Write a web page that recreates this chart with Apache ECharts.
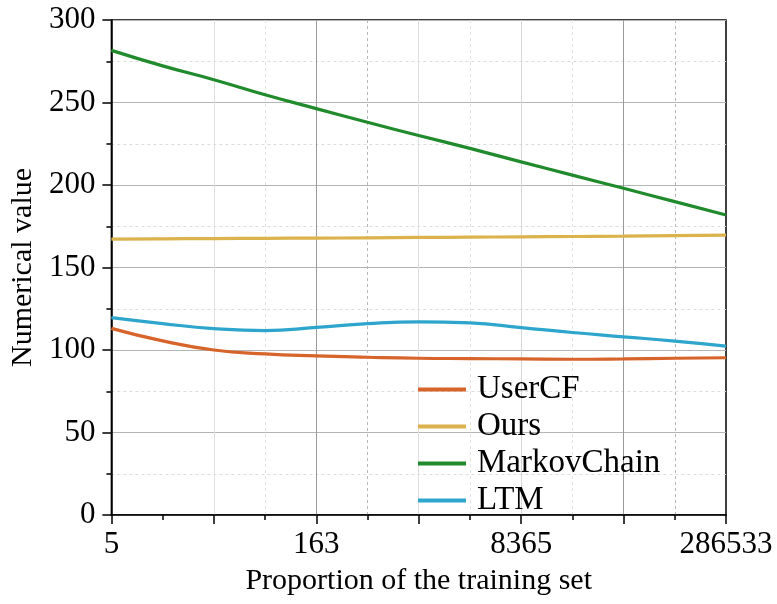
<!DOCTYPE html>
<html>
<head>
<meta charset="utf-8">
<script src="https://cdn.jsdelivr.net/npm/echarts@6/dist/echarts.min.js"></script>
<style>html,body{margin:0;padding:0;background:#fff}#c{width:777px;height:604px}</style>
</head>
<body>
<div id="c"></div>
<script>
const xTickLabels = ['5', '163', '8365', '286533'];
const xPos = [0, 0.5, 1, 1.5, 2, 2.5, 3, 3.5, 4, 4.5, 5, 5.5, 6];
const seriesNames = ['UserCF', 'Ours', 'MarkovChain', 'LTM'];
const userCF = [113.1, 105.5, 100.0, 97.6, 96.4, 95.6, 95.0, 94.8, 94.6, 94.4, 94.6, 95.0, 95.3];
const ours = [167.2, 167.4, 167.5, 167.7, 167.8, 168.0, 168.2, 168.4, 168.6, 168.8, 169.0, 169.3, 169.6];
const markov = [281.6, 272.2, 263.8, 254.7, 246.3, 238.0, 230.0, 222.2, 214.0, 206.0, 198.0, 189.9, 181.8];
const ltm = [119.6, 116.0, 113.0, 111.8, 113.7, 116.0, 117.1, 116.4, 113.6, 110.6, 108.0, 105.4, 102.4];
const colors = ['#D7642A', '#DBB24C', '#218A2C', '#2EA5CC'];

const font = 'Liberation Serif';
const pair = arr => arr.map((v, i) => [xPos[i], v]);
const allData = [userCF, ours, markov, ltm];

const chart = echarts.init(document.getElementById('c'), null, {renderer: 'canvas'});
chart.setOption({
  animation: false,
  backgroundColor: '#fff',
  color: colors,
  grid: {left: 111, right: 51, top: 20, bottom: 89, show: true, borderColor: '#000', borderWidth: 1.5, backgroundColor: 'transparent'},
  legend: {
    orient: 'vertical', left: 418, top: 373, padding: 0,
    icon: 'rect', itemWidth: 48, itemHeight: 4, itemGap: 4,
    textStyle: {fontFamily: font, fontSize: 33, color: '#000', lineHeight: 32, padding: [0, 0, 0, 6]},
    data: seriesNames
  },
  xAxis: [{
    type: 'value', min: 0, max: 6, interval: 1,
    name: 'Proportion of the training set', nameLocation: 'middle', nameGap: 51,
    nameTextStyle: {fontFamily: font, fontSize: 30, color: '#000'},
    axisLine: {lineStyle: {color: '#000', width: 1.5}},
    axisTick: {show: true, length: 9, lineStyle: {color: '#000', width: 1.5}},
    minorTick: {show: true, splitNumber: 2, length: 5, lineStyle: {color: '#000', width: 1.5}},
    axisLabel: {
      fontFamily: font, fontSize: 31, color: '#000', margin: 14,
      formatter: v => (v % 2 === 0 ? xTickLabels[v / 2] : '')
    },
    splitLine: {show: true, lineStyle: {width: 1, color: ['rgba(0,0,0,0)', '#dedede', '#9a9a9a', '#dedede', '#d6d6d6', '#9a9a9a', 'rgba(0,0,0,0)']}},
    z: 3
  }, {
    type: 'value', min: 0, max: 6, interval: 0.5, position: 'top',
    axisLine: {show: false}, axisTick: {show: false}, axisLabel: {show: false},
    splitLine: {show: true, lineStyle: {width: 1, type: [3, 3], color: [
      'rgba(0,0,0,0)', 'rgba(0,0,0,0)', 'rgba(0,0,0,0)', '#e2e2e2', 'rgba(0,0,0,0)', '#b8b8b8', 'rgba(0,0,0,0)',
      '#e2e2e2', 'rgba(0,0,0,0)', '#e2e2e2', 'rgba(0,0,0,0)', '#b8b8b8', 'rgba(0,0,0,0)']}}
  }],
  yAxis: {
    type: 'value', min: 0, max: 300, interval: 50,
    name: 'Numerical value', nameLocation: 'middle', nameGap: 62,
    nameTextStyle: {fontFamily: font, fontSize: 30, color: '#000'},
    axisLine: {show: true, lineStyle: {color: '#000', width: 1.5}},
    axisTick: {show: true, length: 9, lineStyle: {color: '#000', width: 1.5}},
    minorTick: {show: true, splitNumber: 2, length: 5, lineStyle: {color: '#000', width: 1.5}},
    axisLabel: {fontFamily: font, fontSize: 31, color: '#000', margin: 16},
    splitLine: {show: true, lineStyle: {color: '#b4b4b4', width: 1}},
    minorSplitLine: {show: true, lineStyle: {color: '#dcdcdc', width: 1, type: [3, 3]}}
  },
  series: seriesNames.map((n, i) => ({
    name: n, type: 'line', smooth: true, showSymbol: false, symbol: 'none',
    xAxisIndex: 0,
    lineStyle: {width: 3.2, color: colors[i]},
    itemStyle: {color: colors[i]},
    data: pair(allData[i])
  }))
});
</script>
</body>
</html>
